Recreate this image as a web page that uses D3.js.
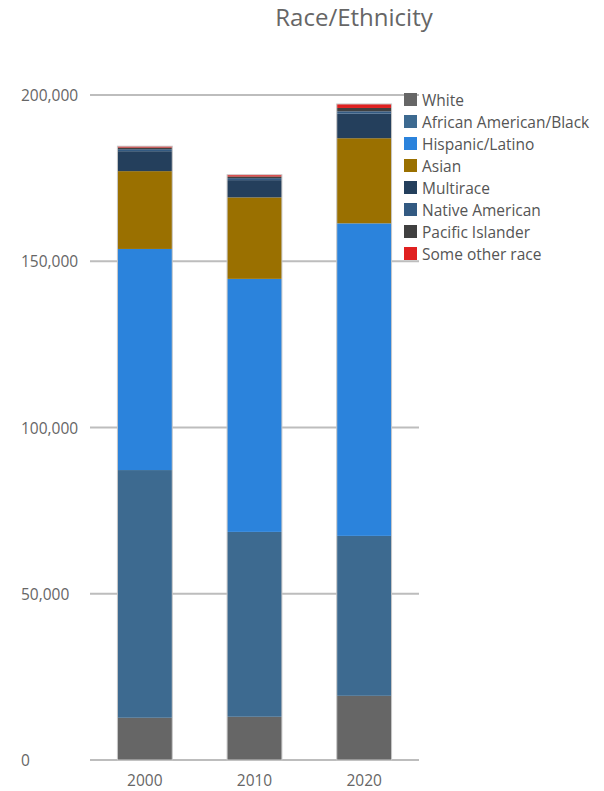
<!DOCTYPE html>
<html><head><meta charset="utf-8">
<script src="https://cdn.jsdelivr.net/npm/d3@7"></script>
<style>body{margin:0;background:#fff;} svg{display:block;font-family:"Open Sans",sans-serif;}</style>
</head><body>
<script>
const years = ["2000","2010","2020"];
const groups = ["White","African American/Black","Hispanic/Latino","Asian","Multirace","Native American","Pacific Islander","Some other race"];
const colors = ["#666666","#3d6a90","#2b83dc","#9a7000","#243f5c","#335a82","#404040","#e02020"];
const white = [12.7, 13.0, 19.3];
const black = [74.5, 55.6, 48.1];
const hispanic = [66.5, 76.1, 94.0];
const asian = [23.4, 24.5, 25.6];
const multirace = [6.0, 5.2, 7.4];
const nativeAm = [0.6, 0.6, 0.7];
const pacific = [0.5, 0.5, 1.0];
const other = [0.4, 0.5, 1.2];
const yTicks = [0, 50000, 100000, 150000, 200000];
const title = "Race/Ethnicity";

const series = [white, black, hispanic, asian, multirace, nativeAm, pacific, other];
const rows = years.map((y,i)=>{const r={year:y}; groups.forEach((g,j)=>r[g]=series[j][i]*1000); return r;});

const W=604,H=791;
const svg=d3.select("body").append("svg").attr("width",W).attr("height",H);
const x=d3.scaleBand().domain(years).range([90,419]).paddingInner(0.5).paddingOuter(0.25);
const y=d3.scaleLinear().domain([0,200000]).range([760,95]);

svg.append("text").attr("x",354).attr("y",26).attr("text-anchor","middle")
  .attr("font-size",24).attr("fill","#666").text(title);

// gridlines
svg.append("g").selectAll("line").data(yTicks).join("line")
  .attr("x1",90).attr("x2",419).attr("y1",d=>y(d)).attr("y2",d=>y(d))
  .attr("stroke","#bdbdbd").attr("stroke-width",2);

// y labels
svg.append("g").selectAll("text").data(yTicks).join("text")
  .attr("x",21).attr("y",d=>y(d)+6)
  .attr("text-anchor","start")
  .attr("font-size",15.5).attr("fill","#666").text(d=>d3.format(",")(d));

const stack=d3.stack().keys(groups)(rows);
svg.append("g").selectAll("g").data(stack).join("g").attr("fill",(d,i)=>colors[i])
  .selectAll("rect").data(d=>d).join("rect")
  .attr("x",d=>x(d.data.year)).attr("width",x.bandwidth())
  .attr("y",d=>y(d[1])).attr("height",d=>y(d[0])-y(d[1]));

// bar outline
svg.append("g").selectAll("rect").data(rows).join("rect")
  .attr("x",d=>x(d.year)).attr("width",x.bandwidth())
  .attr("y",d=>y(d3.sum(groups,g=>d[g]))).attr("height",d=>760-y(d3.sum(groups,g=>d[g])))
  .attr("fill","none").attr("stroke","#c8c8c8").attr("stroke-width",1);

// x labels
svg.append("g").selectAll("text").data(years).join("text")
  .attr("x",d=>x(d)+x.bandwidth()/2).attr("y",786).attr("text-anchor","middle")
  .attr("font-size",15.5).attr("fill","#666").text(d=>d);

// legend
const lg=svg.append("g").selectAll("g").data(groups).join("g")
  .attr("transform",(d,i)=>`translate(404,${93+i*22})`);
lg.append("rect").attr("width",13).attr("height",13).attr("fill",(d,i)=>colors[i]);
lg.append("text").attr("x",18).attr("y",12.5).attr("font-size",15.5).attr("fill","#555").text(d=>d);
</script>
</body></html>
